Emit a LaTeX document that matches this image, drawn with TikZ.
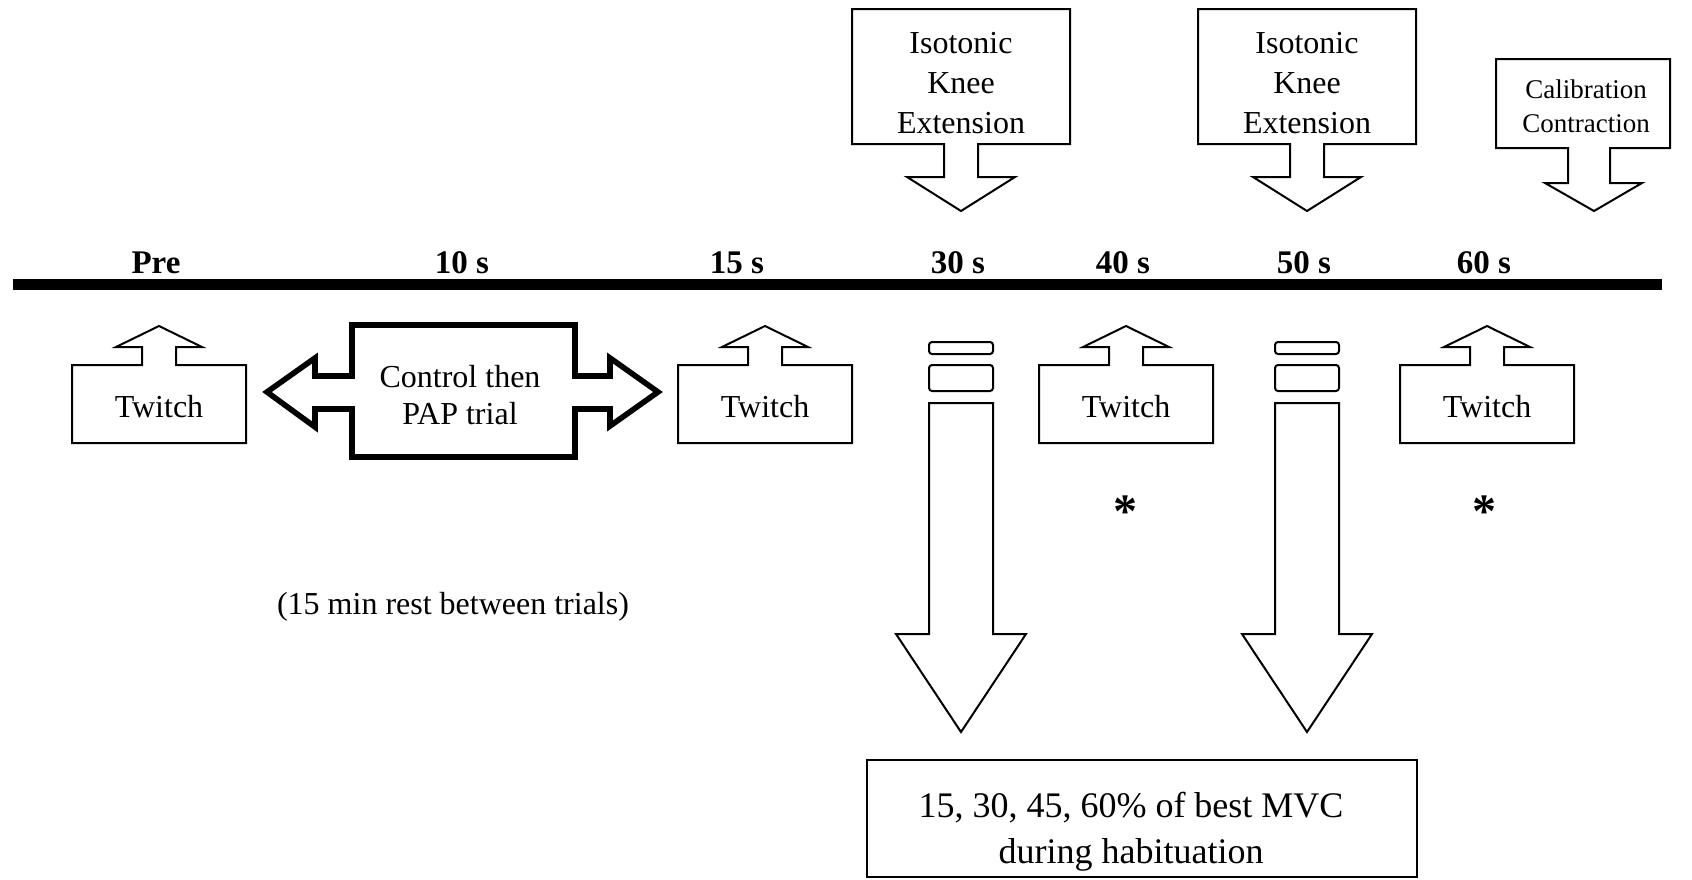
\documentclass[tikz,border=0pt]{standalone}
\usepackage{fontspec}
\setmainfont{Liberation Serif}

\begin{document}
\begin{tikzpicture}[x=0.5pt,y=-0.5pt,
  outline/.style={draw, line width=1pt, fill=white},
  heavy/.style={draw, line width=2.8pt},
  lbl/.style={font=\fontsize{16.5}{20}\selectfont\bfseries, anchor=base, inner sep=0pt},
  txt/.style={font=\fontsize{16}{20}\selectfont, align=center, inner sep=0pt},
  small/.style={font=\fontsize{13.5}{17}\selectfont, align=center, inner sep=0pt},
  big/.style={font=\fontsize{18}{23}\selectfont, align=center, inner sep=0pt},
  astx/.style={font=\fontsize{24}{24}\selectfont\bfseries, inner sep=0pt}]
\useasboundingbox (0,0) rectangle (1692,879);

% time line and its marks
\fill (13,279) rectangle (1662,290);
\foreach \x/\t/\n in {156/Pre/pre, 462/10 s/t10, 737/15 s/t15, 958/30 s/t30, 1123/40 s/t40, 1304/50 s/t50, 1484/60 s/t60}
  \node[lbl] (\n) at (\x,273) {\t};

% twitches
\foreach \x/\n in {159/a, 765/b, 1126/c, 1487/d}{
  \draw[outline] (\x-87,443) -- (\x-87,365) -- (\x-17,365) -- (\x-17,347) -- (\x-43,347) -- (\x,326) -- (\x+43,347) -- (\x+17,347) -- (\x+17,365) -- (\x+87,365) -- (\x+87,443) -- cycle;
  \node[txt, anchor=base] (tw\n) at (\x,417) {Twitch};
}

% control / PAP trial
\draw[heavy] (352,325) -- (575,325) -- (575,376) -- (610,376) -- (610,358) -- (658,392) -- (610,426) -- (610,409) -- (575,409) -- (575,457) -- (352,457) -- (352,409) -- (315,409) -- (315,427) -- (267,392) -- (315,358) -- (315,376) -- (352,376) -- cycle;
\node[txt, font=\fontsize{16}{18.5}\selectfont] (pap) at (460,395) {Control then\\PAP trial};
\node[txt] (rest) at (453,607) {(15 min rest between trials)};

% isotonic knee extensions
\foreach \x/\n in {961/a, 1307/b}{
  \draw[outline] (\x-109,9) -- (\x+109,9) -- (\x+109,144) -- (\x+17,144) -- (\x+17,177) -- (\x+54,177) -- (\x,211) -- (\x-54,177) -- (\x-17,177) -- (\x-17,144) -- (\x-109,144) -- cycle;
  \node[txt] (iso\n) at (\x,83) {Isotonic\\Knee\\Extension};
  \draw[outline, rounded corners=1.5pt] (\x-32,342) rectangle (\x+32,354);
  \draw[outline, rounded corners=1.5pt] (\x-32,365) rectangle (\x+32,391);
  \draw[outline] (\x-32,403) -- (\x+32,403) -- (\x+32,634) -- (\x+65,634) -- (\x,732) -- (\x-65,634) -- (\x-32,634) -- cycle;
}

% calibration
\draw[outline] (1496,59) -- (1670,59) -- (1670,148) -- (1610,148) -- (1610,183) -- (1642,183) -- (1594,211) -- (1545,183) -- (1568,183) -- (1568,148) -- (1496,148) -- cycle;
\node[small] (calib) at (1586,106) {Calibration\\Contraction};

% asterisks
\node[astx] (ast1) at (1125,512) {*};
\node[astx] (ast2) at (1484,512) {*};

% loads
\draw[outline] (867,760) rectangle (1417,877);
\node[big] (mvc) at (1131,832) {15, 30, 45, 60\% of best MVC\\during habituation};
\end{tikzpicture}
\end{document}
